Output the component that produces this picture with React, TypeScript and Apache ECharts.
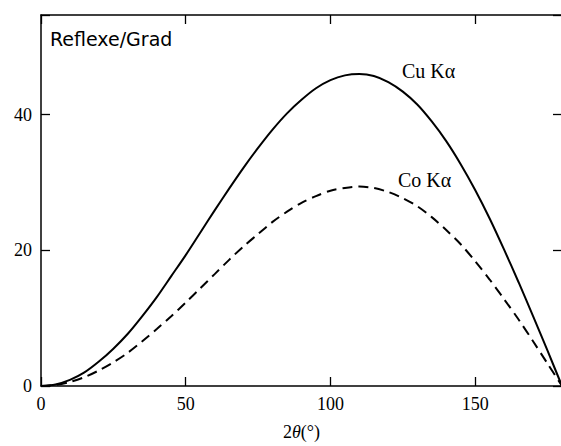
import React, { useEffect, useRef } from "react";
import * as echarts from "echarts";

const twoTheta = [0, 5, 10, 15, 20, 25, 30, 35, 40, 45, 50, 55, 60, 65, 70, 75, 80, 85, 90, 95, 100, 105, 110, 115, 120, 125, 130, 135, 140, 145, 150, 155, 160, 165, 170, 175, 180];
const cuKalpha = [0, 0.23, 0.9, 2.0, 3.6, 5.5, 7.7, 10.3, 13.1, 16.2, 19.3, 22.6, 25.9, 29.1, 32.2, 35.1, 37.8, 40.2, 42.2, 43.9, 45.1, 45.8, 46.0, 45.7, 44.8, 43.4, 41.5, 39.0, 36.1, 32.7, 28.9, 24.7, 20.1, 15.3, 10.3, 5.2, 0];
const coKalpha = [0, 0.15, 0.6, 1.3, 2.3, 3.5, 4.9, 6.6, 8.4, 10.3, 12.3, 14.4, 16.5, 18.6, 20.6, 22.4, 24.2, 25.7, 27.0, 28.0, 28.8, 29.2, 29.4, 29.2, 28.6, 27.7, 26.5, 24.9, 23.0, 20.9, 18.4, 15.7, 12.8, 9.8, 6.6, 3.3, 0];
const xTicks = [0, 50, 100, 150];
const yTicks = [0, 20, 40];
const yLabel = "Reflexe/Grad";
const cuLabel = "Cu K\u03b1";
const coLabel = "Co K\u03b1";

const serif = "'Liberation Serif', 'Times New Roman', serif";

export default function App() {
  const ref = useRef<HTMLDivElement>(null);
  useEffect(() => {
    if (!ref.current) return;
    const chart = echarts.init(ref.current, null, { renderer: "svg" });
    const axisLine = { show: true, onZero: false, lineStyle: { color: "#000", width: 1.5 } };
    const tick = { show: true, inside: true, length: 9, lineStyle: { color: "#000", width: 1.3 } };
    chart.setOption({
      animation: false,
      backgroundColor: "#fff",
      grid: { left: 41, top: 15, right: 2, bottom: 59, containLabel: false },
      xAxis: [
        {
          type: "value",
          min: 0,
          max: 180,
          interval: 50,
          position: "bottom",
          axisLine,
          axisTick: tick,
          splitLine: { show: false },
          axisLabel: {
            margin: 9,
            color: "#000",
            fontFamily: serif,
            fontSize: 18,
            formatter: (v: number) => (xTicks.includes(v) ? String(v) : ""),
          },
          name: "2{i|\u03b8}(\u00b0)",
          nameLocation: "middle",
          nameGap: 37,
          nameTextStyle: {
            color: "#000",
            fontFamily: serif,
            fontSize: 18,
            rich: { i: { fontStyle: "italic", fontFamily: serif, fontSize: 18, color: "#000" } },
          },
        },
        {
          type: "value",
          min: 0,
          max: 180,
          interval: 50,
          position: "top",
          axisLine,
          axisTick: tick,
          splitLine: { show: false },
          axisLabel: { show: false },
        },
      ],
      yAxis: [
        {
          type: "value",
          min: 0,
          max: 54.7,
          interval: 20,
          position: "left",
          axisLine,
          axisTick: tick,
          splitLine: { show: false },
          axisLabel: {
            margin: 9,
            color: "#000",
            fontFamily: serif,
            fontSize: 18,
            formatter: (v: number) => (yTicks.includes(v) ? String(v) : ""),
          },
        },
        {
          type: "value",
          min: 0,
          max: 54.7,
          interval: 20,
          position: "right",
          axisLine: { show: false, onZero: false },
          axisTick: tick,
          splitLine: { show: false },
          axisLabel: { show: false },
        },
      ],
      series: [
        {
          name: cuLabel,
          type: "line",
          data: twoTheta.map((x, i) => [x, cuKalpha[i]]),
          smooth: 0.3,
          symbol: "none",
          lineStyle: { color: "#000", width: 2 },
          z: 3,
        },
        {
          name: coLabel,
          type: "line",
          data: twoTheta.map((x, i) => [x, coKalpha[i]]),
          smooth: 0.3,
          symbol: "none",
          lineStyle: { color: "#000", width: 2, type: [10, 6] },
          z: 3,
        },
      ],
      graphic: [
        {
          type: "text",
          left: 50,
          top: 29,
          style: { text: yLabel, fill: "#000", font: "19px 'DejaVu Sans', sans-serif" },
        },
        {
          type: "text",
          left: 402,
          top: 61,
          style: { text: cuLabel, fill: "#000", font: `20px ${serif}` },
        },
        {
          type: "text",
          left: 398,
          top: 170,
          style: { text: coLabel, fill: "#000", font: `20px ${serif}` },
        },
      ],
    });
    return () => chart.dispose();
  }, []);
  return (
    <div
      ref={ref}
      style={{ position: "fixed", left: 0, top: 0, width: 565, height: 446 }}
    />
  );
}
